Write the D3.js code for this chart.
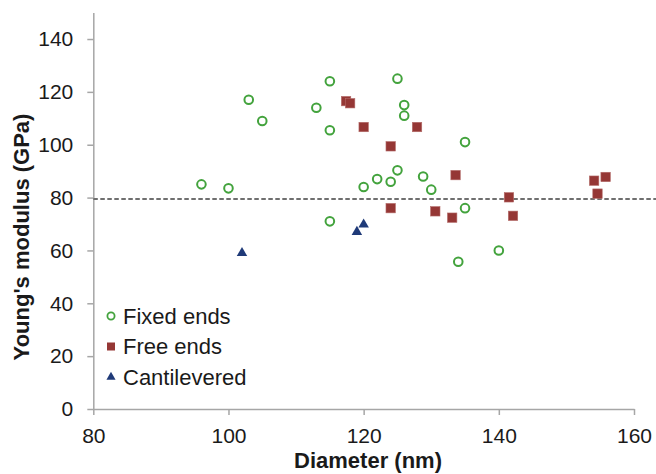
<!DOCTYPE html>
<html>
<head>
<meta charset="utf-8">
<script src="https://cdn.jsdelivr.net/npm/d3@7"></script>
<style>
  body { margin: 0; background: #fff; }
  svg { display: block; font-family: "Liberation Sans", Arial, sans-serif; }
  .axis path, .axis line { stroke: #a6a6a6; stroke-width: 1.5; }
  .axis text { font-size: 21px; fill: #1a1a1a; }
</style>
</head>
<body>
<div id="chart"></div>
<script>
      // data
      var fixedDiameter = [96, 100, 103, 105, 113, 115, 115, 115, 120, 122, 124, 125, 125, 126, 126, 128.8, 130, 134, 135, 135, 140];
      var fixedModulus  = [85, 83.5, 117, 109, 114, 124, 105.5, 71, 84, 87, 86, 90.3, 125, 115, 111, 88, 83, 55.7, 101, 76, 60];

      var freeDiameter = [117.4, 118, 120, 124, 124, 127.9, 130.6, 133.1, 133.6, 141.5, 142.1, 154.1, 154.6, 155.8];
      var freeModulus  = [116.5, 115.7, 106.7, 99.4, 76, 106.7, 74.8, 72.4, 88.5, 80.1, 73.1, 86.4, 81.5, 87.8];

      var cantDiameter = [102, 119, 120];
      var cantModulus  = [59, 67, 69.8];

      var meanModulus = 79.5;

      var xTicks = [80, 100, 120, 140, 160];
      var yTicks = [0, 20, 40, 60, 80, 100, 120, 140];

      var seriesNames = ["Fixed ends", "Free ends", "Cantilevered"];
      var seriesColors = ["#43a33d", "#953735", "#1f3a78"];

      var margin = {top: 12.6, right: 22, bottom: 65, left: 93.3};
      var width = 656 - margin.left - margin.right,
          height = 474 - margin.top - margin.bottom;

      var svg = d3.select("#chart").append("svg")
          .attr("width", 656)
          .attr("height", 474);

      var canvas = svg.append("g")
          .attr("transform", "translate(" + margin.left + "," + margin.top + ")");

      ////// Scales //////
      var xScale = d3.scaleLinear().domain([80, 160]).range([0, width]);
      var yScale = d3.scaleLinear().domain([0, 150]).range([height, 0]);

      ////// Axes //////
      var xAxis = d3.axisBottom(xScale).tickValues(xTicks).tickSize(6).tickPadding(13).tickSizeOuter(0);
      var yAxis = d3.axisLeft(yScale).tickValues(yTicks).tickSize(6).tickPadding(14).tickSizeOuter(0);

      canvas.append("g")
          .attr("class", "x axis")
          .attr("transform", "translate(0," + height + ")")
          .call(xAxis);

      canvas.append("g")
          .attr("class", "y axis")
          .call(yAxis);

      // dashed reference line, runs to the right edge
      canvas.append("line")
          .attr("x1", xScale(80))
          .attr("x2", width + margin.right)
          .attr("y1", Math.round(yScale(meanModulus) + margin.top) - margin.top)
          .attr("y2", Math.round(yScale(meanModulus) + margin.top) - margin.top)
          .attr("stroke", "#6f6f6f")
          .attr("stroke-width", 2)
          .attr("stroke-dasharray", "4.5,2.5");

      // axis titles
      svg.append("text")
          .attr("x", 368)
          .attr("y", 468)
          .attr("text-anchor", "middle")
          .attr("font-size", 22)
          .attr("font-weight", "bold")
          .attr("fill", "#1a1a1a")
          .text("Diameter (nm)");

      svg.append("text")
          .attr("transform", "rotate(-90)")
          .attr("x", -237)
          .attr("y", 29)
          .attr("text-anchor", "middle")
          .attr("font-size", 22)
          .attr("font-weight", "bold")
          .attr("fill", "#1a1a1a")
          .text("Young's modulus (GPa)");

      ////// Points //////
      canvas.append("g")
          .selectAll("circle")
          .data(d3.zip(fixedDiameter, fixedModulus))
          .enter()
          .append("circle")
          .attr("cx", function(d) { return xScale(d[0]); })
          .attr("cy", function(d) { return yScale(d[1]); })
          .attr("r", 4.3)
          .attr("fill", "none")
          .attr("stroke", seriesColors[0])
          .attr("stroke-width", 2);

      canvas.append("g")
          .selectAll("rect")
          .data(d3.zip(freeDiameter, freeModulus))
          .enter()
          .append("rect")
          .attr("x", function(d) { return xScale(d[0]) - 4.7; })
          .attr("y", function(d) { return yScale(d[1]) - 4.7; })
          .attr("width", 9.4)
          .attr("height", 9.4)
          .attr("fill", seriesColors[1])
          .attr("stroke", "#b36a68")
          .attr("stroke-width", 0.6);

      var tri = d3.symbol().type(d3.symbolTriangle).size(48);

      canvas.append("g")
          .selectAll("path")
          .data(d3.zip(cantDiameter, cantModulus))
          .enter()
          .append("path")
          .attr("d", tri)
          .attr("transform", function(d) {
              return "translate(" + xScale(d[0]) + "," + yScale(d[1]) + ")";
          })
          .attr("fill", seriesColors[2]);

      ////// Legend //////
      var legend = svg.append("g");
      var legendY = [316, 346.5, 377];

      legend.append("circle")
          .attr("cx", 111).attr("cy", legendY[0]).attr("r", 3.6)
          .attr("fill", "none").attr("stroke", seriesColors[0]).attr("stroke-width", 1.8);
      legend.append("rect")
          .attr("x", 107).attr("y", legendY[1] - 4).attr("width", 8).attr("height", 8)
          .attr("fill", seriesColors[1]);
      legend.append("path")
          .attr("d", d3.symbol().type(d3.symbolTriangle).size(36))
          .attr("transform", "translate(111," + legendY[2] + ")")
          .attr("fill", seriesColors[2]);

      legend.selectAll("text")
          .data(seriesNames)
          .enter()
          .append("text")
          .attr("x", 123)
          .attr("y", function(d, i) { return legendY[i] + 7.5; })
          .attr("font-size", 22)
          .attr("fill", "#1a1a1a")
          .text(function(d) { return d; });
</script>
</body>
</html>
